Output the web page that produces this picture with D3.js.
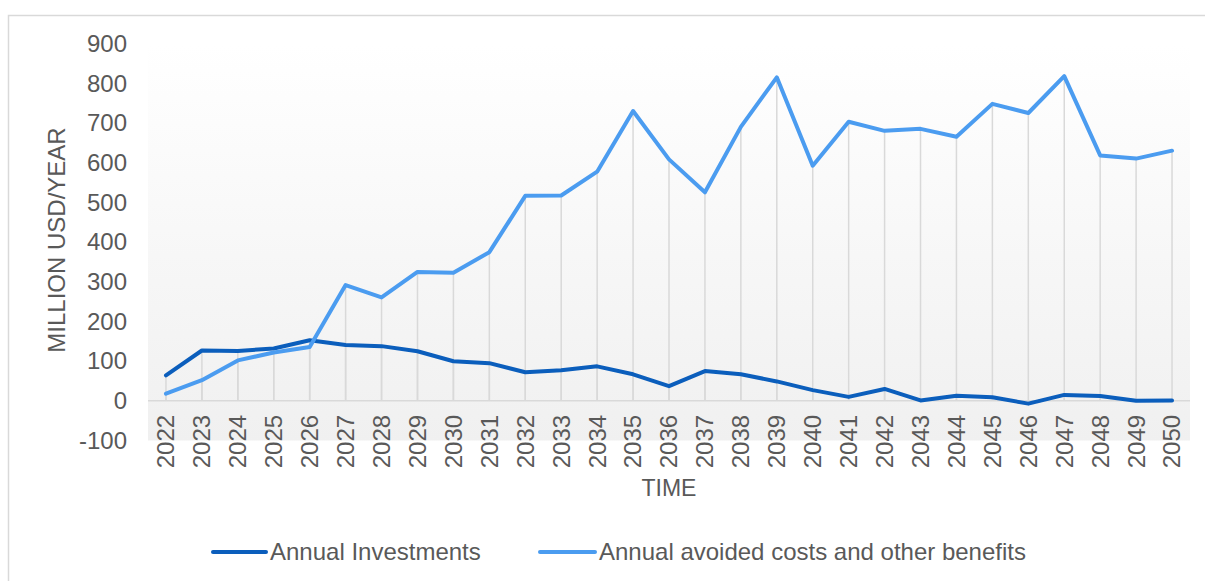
<!DOCTYPE html>
<html>
<head>
<meta charset="utf-8">
<script src="https://cdn.jsdelivr.net/npm/d3@7"></script>
<style>
  html, body { margin: 0; padding: 0; background: #ffffff; }
  svg { display: block; font-family: "Liberation Sans", Arial, sans-serif; }
</style>
</head>
<body>
<svg id="chart" width="1205" height="581"></svg>
<script>
// Years on the category axis
const years = ["2022","2023","2024","2025","2026","2027","2028","2029","2030","2031",
  "2032","2033","2034","2035","2036","2037","2038","2039","2040","2041",
  "2042","2043","2044","2045","2046","2047","2048","2049","2050"];

// Annual investments, million USD/year
const investments = [64, 127, 126, 132, 153, 141, 138, 125, 100, 95,
  72, 77, 87, 67, 37, 75, 67, 49, 27, 10,
  30, 1, 13, 9, -7, 15, 12, 0, 1];

// Annual avoided costs and other benefits, million USD/year
const benefits = [18, 52, 102, 122, 136, 292, 261, 325, 323, 375,
  517, 518, 578, 731, 609, 526, 691, 816, 593, 704,
  681, 686, 666, 749, 726, 819, 619, 611, 631];

const yTicks = [-100, 0, 100, 200, 300, 400, 500, 600, 700, 800, 900];

const seriesNames = ["Annual Investments", "Annual avoided costs and other benefits"];
const seriesColors = ["#0b5ebc", "#4b9cf0"];

const svg = d3.select("#chart");
const textColor = "#595959";

// outer chart frame
svg.append("rect")
  .attr("x", 8.5).attr("y", 15.5)
  .attr("width", 1210).attr("height", 600)
  .attr("fill", "#ffffff").attr("stroke", "#d9d9d9").attr("stroke-width", 1.5);

const plot = { left: 148, right: 1190, top: 44, bottom: 440.5 };

const x = d3.scaleBand().domain(years).range([plot.left, plot.right]);
const y = d3.scaleLinear().domain([-100, 900]).range([plot.bottom, plot.top]);
const cx = d => x(d) + x.bandwidth() / 2;

// plot area background: white fading to light grey
const defs = svg.append("defs");
const grad = defs.append("linearGradient")
  .attr("id", "plotBg").attr("x1", 0).attr("y1", 0).attr("x2", 0).attr("y2", 1);
grad.append("stop").attr("offset", "0%").attr("stop-color", "#ffffff");
grad.append("stop").attr("offset", "100%").attr("stop-color", "#f0f0f0");

svg.append("rect")
  .attr("x", plot.left).attr("y", plot.top)
  .attr("width", plot.right - plot.left).attr("height", plot.bottom - plot.top)
  .attr("fill", "url(#plotBg)");

// drop lines from each point to the zero line
const drops = svg.append("g").attr("stroke", "#d9d9d9").attr("stroke-width", 1.5);
[investments, benefits].forEach(vals => {
  drops.selectAll(null).data(vals).join("line")
    .attr("x1", (d, i) => cx(years[i])).attr("x2", (d, i) => cx(years[i]))
    .attr("y1", d => y(d)).attr("y2", y(0));
});

// zero baseline
svg.append("line")
  .attr("x1", plot.left).attr("x2", plot.right)
  .attr("y1", y(0)).attr("y2", y(0))
  .attr("stroke", "#d9d9d9").attr("stroke-width", 1.5);

// y axis labels (plain hyphen for negatives)
const yAxis = d3.axisLeft(y).tickValues(yTicks).tickSize(0).tickPadding(21)
  .tickFormat(d => String(d));
const yg = svg.append("g").attr("transform", `translate(${plot.left},0)`).call(yAxis);
yg.select(".domain").remove();
yg.selectAll("text")
  .attr("font-size", 24).attr("fill", textColor)
  .attr("font-family", "Liberation Sans, Arial, sans-serif");

// x axis labels (rotated)
const xAxis = d3.axisBottom(x).tickSize(0);
const xg = svg.append("g").attr("transform", `translate(0,${y(0)})`).call(xAxis);
xg.select(".domain").remove();
xg.selectAll("text")
  .attr("font-size", 24).attr("fill", textColor)
  .attr("font-family", "Liberation Sans, Arial, sans-serif")
  .attr("transform", "rotate(-90)")
  .attr("text-anchor", "end")
  .attr("x", -14).attr("y", 0).attr("dy", "0.35em");

// series lines
const line = d3.line().x((d, i) => cx(years[i])).y(d => y(d));
[investments, benefits].forEach((vals, k) => {
  svg.append("path")
    .datum(vals)
    .attr("fill", "none")
    .attr("stroke", seriesColors[k])
    .attr("stroke-width", 4)
    .attr("stroke-linejoin", "round")
    .attr("stroke-linecap", "round")
    .attr("d", line);
});

// axis titles
svg.append("text")
  .attr("transform", `translate(65,240) rotate(-90)`)
  .attr("text-anchor", "middle")
  .attr("font-size", 24).attr("fill", textColor)
  .text("MILLION USD/YEAR");

svg.append("text")
  .attr("x", 669).attr("y", 496)
  .attr("text-anchor", "middle")
  .attr("font-size", 23).attr("fill", textColor)
  .text("TIME");

// legend
const legendItems = [
  { name: seriesNames[0], color: seriesColors[0], x: 213, w: 53 },
  { name: seriesNames[1], color: seriesColors[1], x: 540, w: 55 }
];
const lg = svg.append("g");
legendItems.forEach(it => {
  lg.append("line")
    .attr("x1", it.x).attr("x2", it.x + it.w)
    .attr("y1", 552).attr("y2", 552)
    .attr("stroke", it.color).attr("stroke-width", 4).attr("stroke-linecap", "round");
  lg.append("text")
    .attr("x", it.x + it.w + 4).attr("y", 560)
    .attr("font-size", 24).attr("fill", textColor)
    .text(it.name);
});
</script>
</body>
</html>
